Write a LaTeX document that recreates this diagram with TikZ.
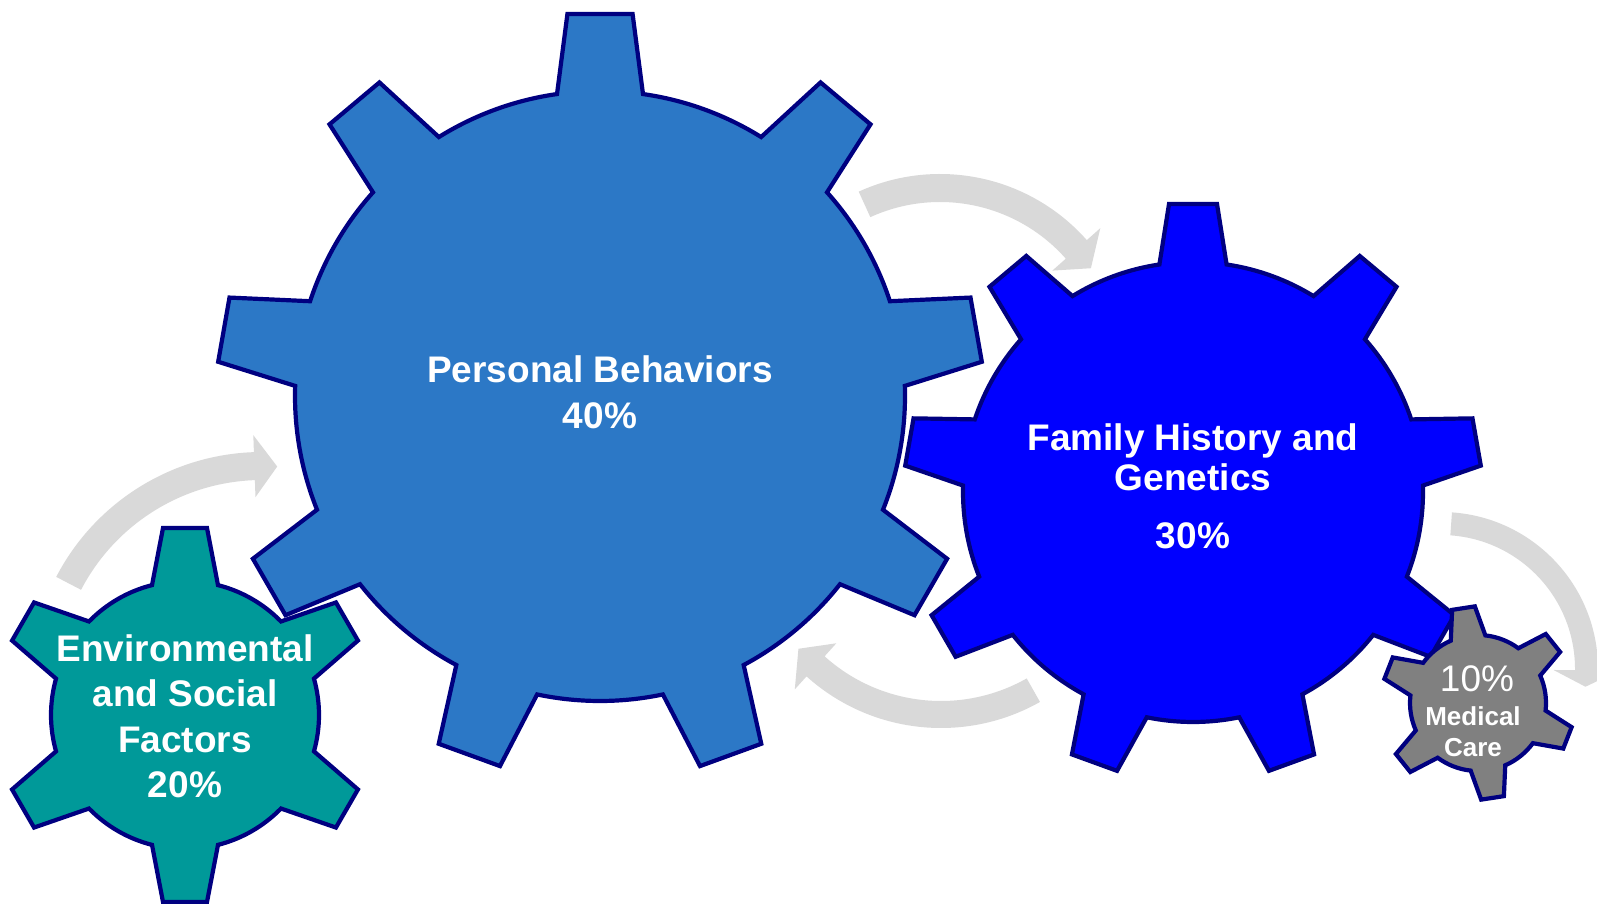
\documentclass[tikz,border=0pt]{standalone}
\usepackage{fontspec}
\setmainfont{Liberation Sans}
\definecolor{pbblue}{RGB}{44,120,198}
\definecolor{fhblue}{RGB}{0,0,255}
\definecolor{envteal}{RGB}{0,153,153}
\definecolor{medgray}{RGB}{128,128,128}
\definecolor{gearnavy}{RGB}{0,0,128}
\definecolor{arrowgray}{RGB}{217,217,217}
\tikzset{
  gearline/.style={draw=gearnavy, line width=4.2pt, line join=miter},
  arrowfill/.style={fill=arrowgray},
  biglabel/.style={text=white, font=\bfseries\fontsize{37}{44}\selectfont, anchor=base, inner sep=0pt},
  medlabel/.style={text=white, font=\bfseries\fontsize{26}{31}\selectfont, anchor=base, inner sep=0pt},
  pctlabel/.style={text=white, font=\fontsize{37}{44}\selectfont, anchor=base, inner sep=0pt}
}
% #1 centre, #2 teeth, #3 first tooth angle, #4 tip radius, #5 body radius, #6 tip half width, #7 base half width, #8 fill
\newcommand\drawgear[8]{%
  \pgfmathsetmacro\gstep{360/#2}%
  \pgfmathsetmacro\gdt{atan(#6/#4)}%
  \pgfmathsetmacro\gRt{#4/cos(\gdt)}%
  \pgfmathsetmacro\gdb{asin(#7/#5)}%
  \pgfmathtruncatemacro\glast{#2-1}%
  \draw[gearline, fill=#8, shift={(#1)}] ({#3-\gdb}:#5pt)
    \foreach \k in {0,...,\glast}{
      -- ({#3+\k*\gstep-\gdt}:\gRt pt) -- ({#3+\k*\gstep+\gdt}:\gRt pt)
      -- ({#3+\k*\gstep+\gdb}:#5pt)
      arc[start angle={#3+\k*\gstep+\gdb}, end angle={#3+(\k+1)*\gstep-\gdb}, radius=#5pt]
    } -- cycle;
}
% #1 centre, #2 inner r, #3 outer r, #4 start angle, #5 head back angle, #6 tip angle, #7 head half width
\newcommand\curvarrow[7]{%
  \pgfmathsetmacro\am{(#2+#3)/2}%
  \pgfmathsetmacro\awo{\am+#7}%
  \pgfmathsetmacro\awi{\am-#7}%
  \fill[arrowfill, shift={(#1)}] (#4:#3pt) arc[start angle=#4, end angle=#5, radius=#3pt]
    -- (#5:\awo pt) -- (#6:\am pt) -- (#5:\awi pt) -- (#5:#2pt)
    arc[start angle=#5, end angle=#4, radius=#2pt] -- cycle;
}
\begin{document}
\begin{tikzpicture}[x=1pt,y=1pt]
\fill[white] (0,0) rectangle (1597,903);
\useasboundingbox (0,0) rectangle (1597,903);
% centres
\coordinate (gPB) at (600,507);
\coordinate (gFH) at (1193,411);
\coordinate (gEN) at (185,188);
\coordinate (gMC) at (1478,200);
\coordinate (aTop) at (940,533);
\coordinate (aLeft) at (262,219);
\coordinate (aBot) at (941,376);
\coordinate (aRight) at (1441,234);
% arrows
\curvarrow{aTop}{168}{196}{114.5}{41.5}{34}{32}
\curvarrow{aLeft}{204}{232}{152.5}{92}{86}{31}
\curvarrow{aBot}{174}{201}{-60.5}{-132}{-139.5}{31}
\curvarrow{aRight}{134}{157}{86}{-0.5}{-7}{33}
% gears
\drawgear{gPB}{9}{90}{382}{305}{32.6}{43}{pbblue}
\drawgear{gFH}{9}{90}{288}{230}{24}{33.6}{fhblue}
\drawgear{gEN}{6}{90}{187}{134}{22}{33}{envteal}
\drawgear{gMC}{6}{38.7}{96}{68}{11.5}{17.5}{medgray}
% labels
\node[biglabel] (pb1) at (600,520) {Personal Behaviors};
\node[biglabel] (pb2) at (600,474) {40\%};
\node[biglabel] (fh1) at (1193,452) {Family History and};
\node[biglabel] (fh2) at (1193,412) {Genetics};
\node[biglabel] (fh3) at (1193,355) {30\%};
\node[biglabel] (en1) at (185,242) {Environmental};
\node[biglabel] (en2) at (185,197) {and Social};
\node[biglabel] (en3) at (185,151) {Factors};
\node[biglabel] (en4) at (185,106) {20\%};
\node[pctlabel] (mc1) at (1477,212) {10\%};
\node[medlabel] (mc2) at (1473,178) {Medical};
\node[medlabel] (mc3) at (1473,147) {Care};
\end{tikzpicture}
\end{document}
